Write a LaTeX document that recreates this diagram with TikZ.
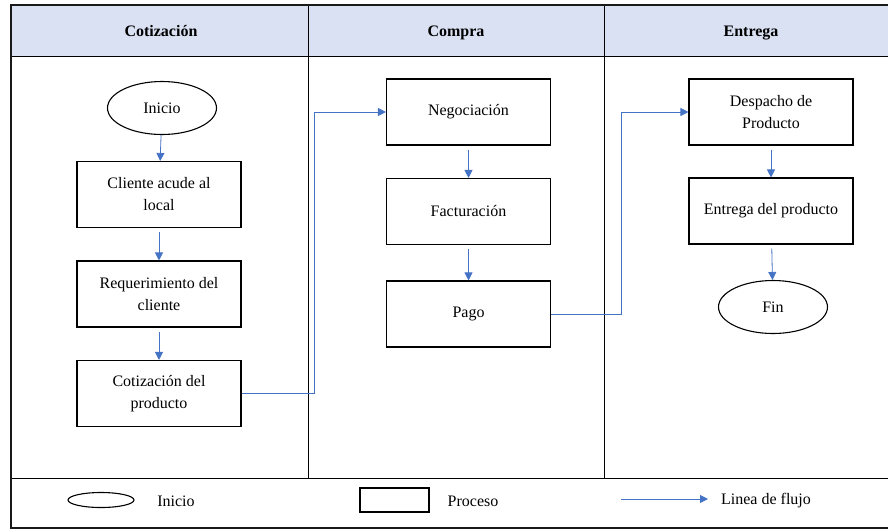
\documentclass[tikz,border=0pt]{standalone}
\usepackage{fontspec}
\setmainfont{Liberation Serif}
\usetikzlibrary{arrows.meta}
\usetikzlibrary{shapes.geometric}

\definecolor{lanefill}{HTML}{D9E1F2}
\definecolor{flowblue}{HTML}{4472C4}

\begin{document}
\begin{tikzpicture}[%
        x=1pt, y=-1pt,
        frame/.style={
            line width=1.6pt,
            draw=black!90,
        },
        lane/.style={
            line width=0.9pt,
            draw=black,
        },
        title/.style={
            font=\fontsize{16}{22}\selectfont\bfseries,
            text height=1.5ex,
            text depth=.25ex,
        },
        proc/.style={
            % the shape:
            rectangle,
            minimum width=164pt,
            minimum height=66pt,
            % the rest:
            line width=1.1pt,
            draw=black,
            align=center,
            font=\fontsize{16}{22}\selectfont,
        },
        term/.style={
            % the shape:
            ellipse,
            minimum width=109pt,
            minimum height=53pt,
            inner sep=0pt,
            % the rest:
            line width=1.1pt,
            draw=black,
            font=\fontsize{16}{22}\selectfont,
        },
        legtext/.style={
            font=\fontsize{16}{22}\selectfont,
            text height=1.5ex,
            text depth=.25ex,
        },
        flow/.style={
            ->,
            draw=flowblue,
            line width=0.8pt,
        },
        >={Triangle[length=8pt,width=8pt]}
    ]

    \useasboundingbox (0,0) rectangle (888,531);

    % lanes
    \fill[lanefill] (11,5) rectangle (896,56);
    \draw[lane] (11,56) -- (896,56);
    \draw[lane] (11,478) -- (896,478);
    \draw[lane] (308,5) -- (308,478);
    \draw[lane] (604,5) -- (604,478);
    \draw[frame] (11,5) rectangle (896,528);

    \node[title] (tcot) at (161,34) {Cotización};
    \node[title] (tcom) at (456,34) {Compra};
    \node[title] (tent) at (751,34) {Entrega};

    % Cotizacion
    \node[term] (inicio) at (162,108) {Inicio};
    \node[proc] (cliente) at (159,194.5) {Cliente acude al\\local};
    \node[proc] (requer) at (159,294) {Requerimiento del\\cliente};
    \node[proc] (cotiz) at (159,393.5) {Cotización del\\producto};

    % Compra
    \node[proc] (negoc) at (468.5,112) {Negociación};
    \node[proc] (factur) at (468.5,211.5) {Facturación};
    \node[proc] (pago) at (468.5,314) {Pago};

    % Entrega
    \node[proc] (despacho) at (771,112) {Despacho de\\Producto};
    \node[proc] (entrega) at (771,211) {Entrega del producto};
    \node[term] (fin) at (773,307) {Fin};

    \draw[flow] (inicio) -- (cliente);
    \draw[flow, shorten <=4pt] (cliente) -- (requer);
    \draw[flow, shorten <=4pt] (requer) -- (cotiz);
    \draw[flow] (cotiz.east) -- ++(73,0) |- (negoc.west);
    \draw[flow, shorten <=4pt] (negoc) -- (factur);
    \draw[flow, shorten <=4pt] (factur) -- (pago);
    \draw[flow] (pago.east) -- ++(70,0) |- (despacho.west);
    \draw[flow, shorten <=4pt] (despacho) -- (entrega);
    \draw[flow, shorten <=4pt] (entrega) -- (fin);

    % leyenda
    \node[term, minimum width=66pt, minimum height=15pt] (leginicio) at (101,500) {};
    \node[legtext] (txtinicio) at (176,504) {Inicio};
    \node[proc, minimum width=69pt, minimum height=24pt] (legproc) at (394.5,500) {};
    \node[legtext] (txtproc) at (473,504) {Proceso};
    \coordinate (flowa) at (621,499);
    \coordinate (flowb) at (708,499);
    \draw[flow] (flowa) -- (flowb);
    \node[legtext] (txtflujo) at (766,502) {Linea de flujo};

\end{tikzpicture}
\end{document}
